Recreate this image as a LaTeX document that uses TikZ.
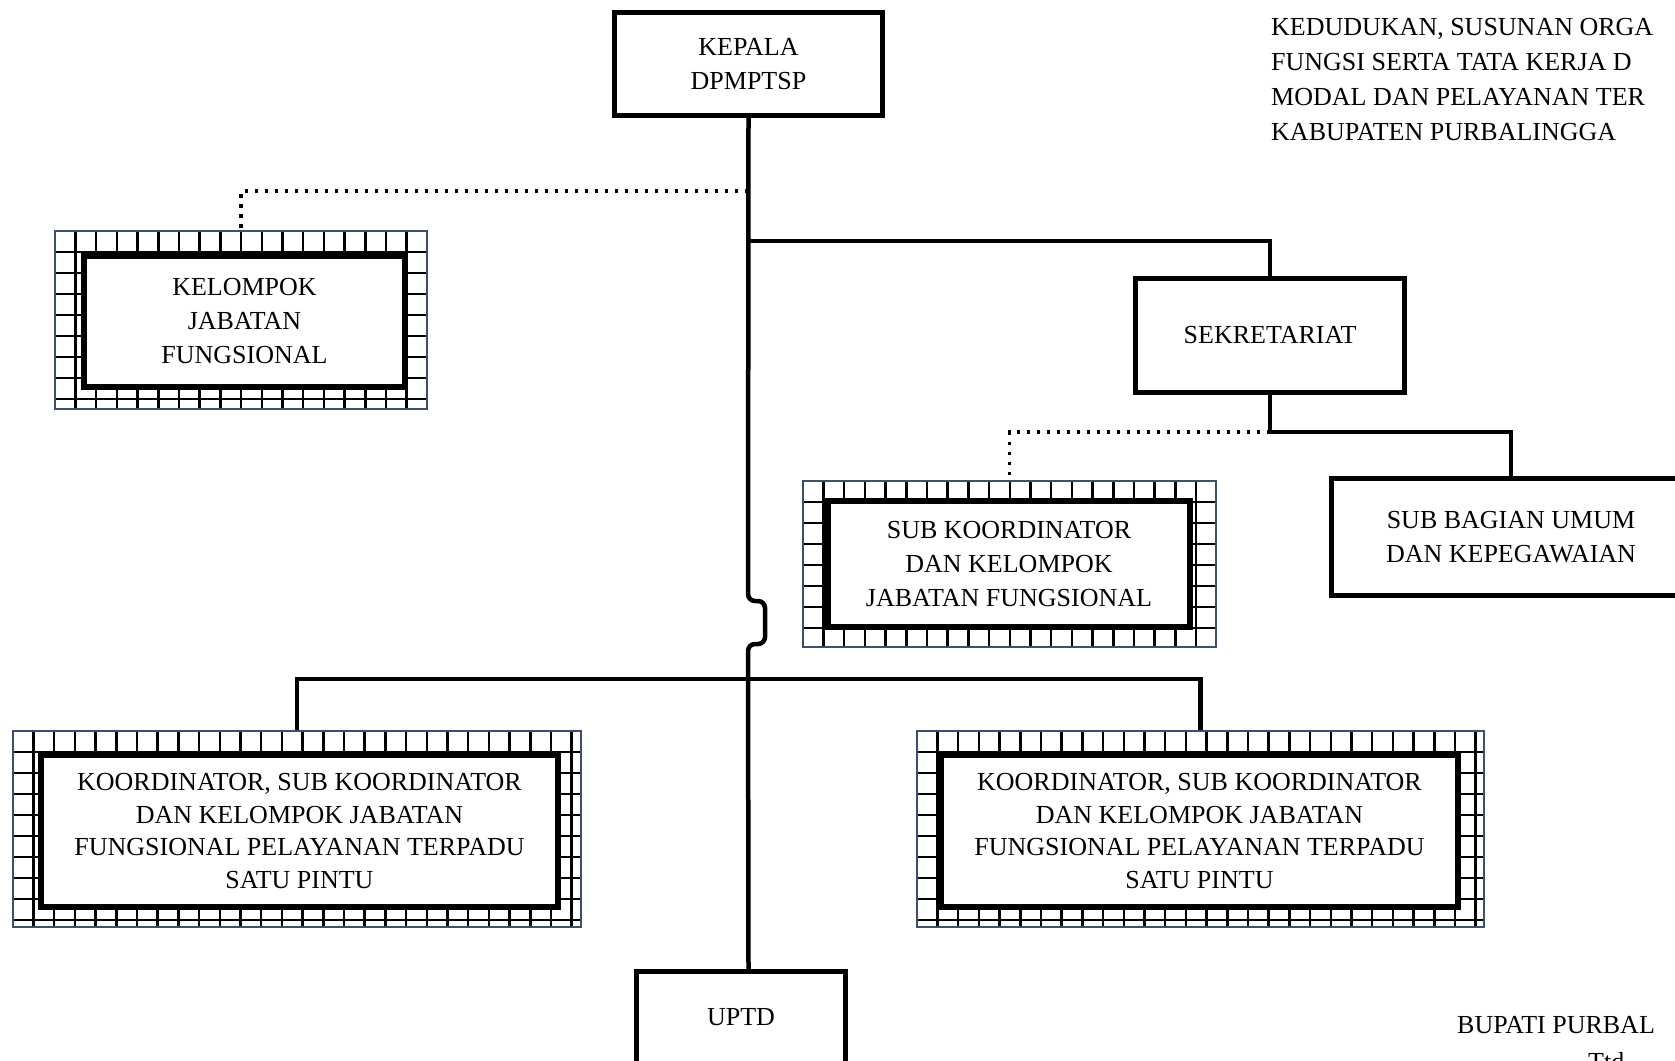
\documentclass[tikz,border=0pt]{standalone}
\usepackage{fontspec}
\setmainfont{Liberation Serif}
\usepackage{tikz}
\usetikzlibrary{positioning}
\definecolor{MyFrame}{RGB}{62,80,108}
\tikzset{
    unitbox/.style={
      rectangle,
      draw=black,
      fill=white,
      line width=5pt,
      align=center,
      inner sep=0pt,
      text=black,
      font=\fontsize{26}{34}\selectfont
    },
    jabatan/.style={
      unitbox,
      line width=6pt
    },
    kbox/.style={
      jabatan,
      font=\fontsize{26}{32.5}\selectfont
    },
    gridframe/.style={
      rectangle,
      inner sep=0pt
    },
    plaintext/.style={
      inner sep=0pt,
      align=left,
      font=\fontsize{26}{35}\selectfont
    },
    conn/.style={line width=4.5pt},
    dotline/.style={line width=3.5pt,dash pattern=on 3.5pt off 6.5pt},
}
\newcommand{\gridfill}[1]{%
  \begin{scope}[shift={(#1.north west)}]
    \clip (#1.south west) rectangle (#1.north east);
    \draw[line width=2.5pt] (#1.south west) grid[xstep=20.7pt,ystep=21pt] (#1.north east);
  \end{scope}
  \draw[MyFrame,line width=2pt] (#1.south west) rectangle (#1.north east);
}

\begin{document}
\begin{tikzpicture}[x=1pt,y=-1pt]
    \useasboundingbox (0,0) rectangle (1675,1060);
    \clip (0,0) rectangle (1675,1060);

    % plain boxes
    \draw (748.5,64) node[unitbox,minimum width=268pt,minimum height=103pt] (KEP) {KEPALA\\DPMPTSP};
    \draw (1270,335.5) node[unitbox,minimum width=269pt,minimum height=114pt] (SEK) {SEKRETARIAT};
    \draw (1511,537) node[unitbox,minimum width=359pt,minimum height=117pt] (SUBBAG) {SUB BAGIAN UMUM\\DAN KEPEGAWAIAN};
    \draw (741,1017.5) node[unitbox,minimum width=209pt,minimum height=92pt] (UPTD) {UPTD};

    % frames round the functional groups
    \draw (241,320) node[gridframe,minimum width=372pt,minimum height=178pt] (KJFo) {};
    \draw (1009.5,564) node[gridframe,minimum width=413pt,minimum height=166pt] (SKo) {};
    \draw (297,829) node[gridframe,minimum width=568pt,minimum height=196pt] (KLo) {};
    \draw (1200.5,829) node[gridframe,minimum width=567pt,minimum height=196pt] (KRo) {};

    \coordinate (dotK) at (748,191);
    \coordinate (brSek) at (748,241);
    \coordinate (jnS) at (1270,432);

    \draw[conn,rounded corners=7pt] (KEP.south) -- (748,601) -- (765,601) -- (765,644) -- (748,644) -- (KEP.south |- UPTD.north);
    \draw[conn] (brSek) -| (SEK.north);
    \draw[dotline] (dotK) -| (KJFo.north);
    \draw[conn] (SEK.south) -- (jnS) -| (SUBBAG.north);
    \draw[dotline] (jnS) -| (SKo.north);
    \draw[conn] (KLo.north) -- ++(0,-52) -| (KRo.north);

    \gridfill{KJFo}
    \gridfill{SKo}
    \gridfill{KLo}
    \gridfill{KRo}

    \draw (244.5,321.5) node[jabatan,minimum width=321pt,minimum height=131pt] (KJF) {KELOMPOK\\JABATAN\\FUNGSIONAL};
    \draw (1009,564) node[jabatan,minimum width=362pt,minimum height=126pt] (SK) {SUB KOORDINATOR\\DAN KELOMPOK\\JABATAN FUNGSIONAL};
    \draw (299.5,831) node[kbox,minimum width=517pt,minimum height=152pt] (KL) {KOORDINATOR, SUB KOORDINATOR\\DAN KELOMPOK JABATAN\\FUNGSIONAL PELAYANAN TERPADU\\SATU PINTU};
    \draw (1199.5,831) node[kbox,minimum width=517pt,minimum height=152pt] (KR) {KOORDINATOR, SUB KOORDINATOR\\DAN KELOMPOK JABATAN\\FUNGSIONAL PELAYANAN TERPADU\\SATU PINTU};

    % text at the page edge
    \node[plaintext,anchor=north west] (judul) at (1271,18) {KEDUDUKAN, SUSUNAN ORGA\\FUNGSI SERTA TATA KERJA D\\MODAL DAN PELAYANAN TER\\KABUPATEN PURBALINGGA};
    \node[plaintext,anchor=west] (bupati) at (1457,1025) {BUPATI PURBAL};
    \node[plaintext,anchor=west] (ttd) at (1588,1062) {Ttd};
\end{tikzpicture}
\end{document}
